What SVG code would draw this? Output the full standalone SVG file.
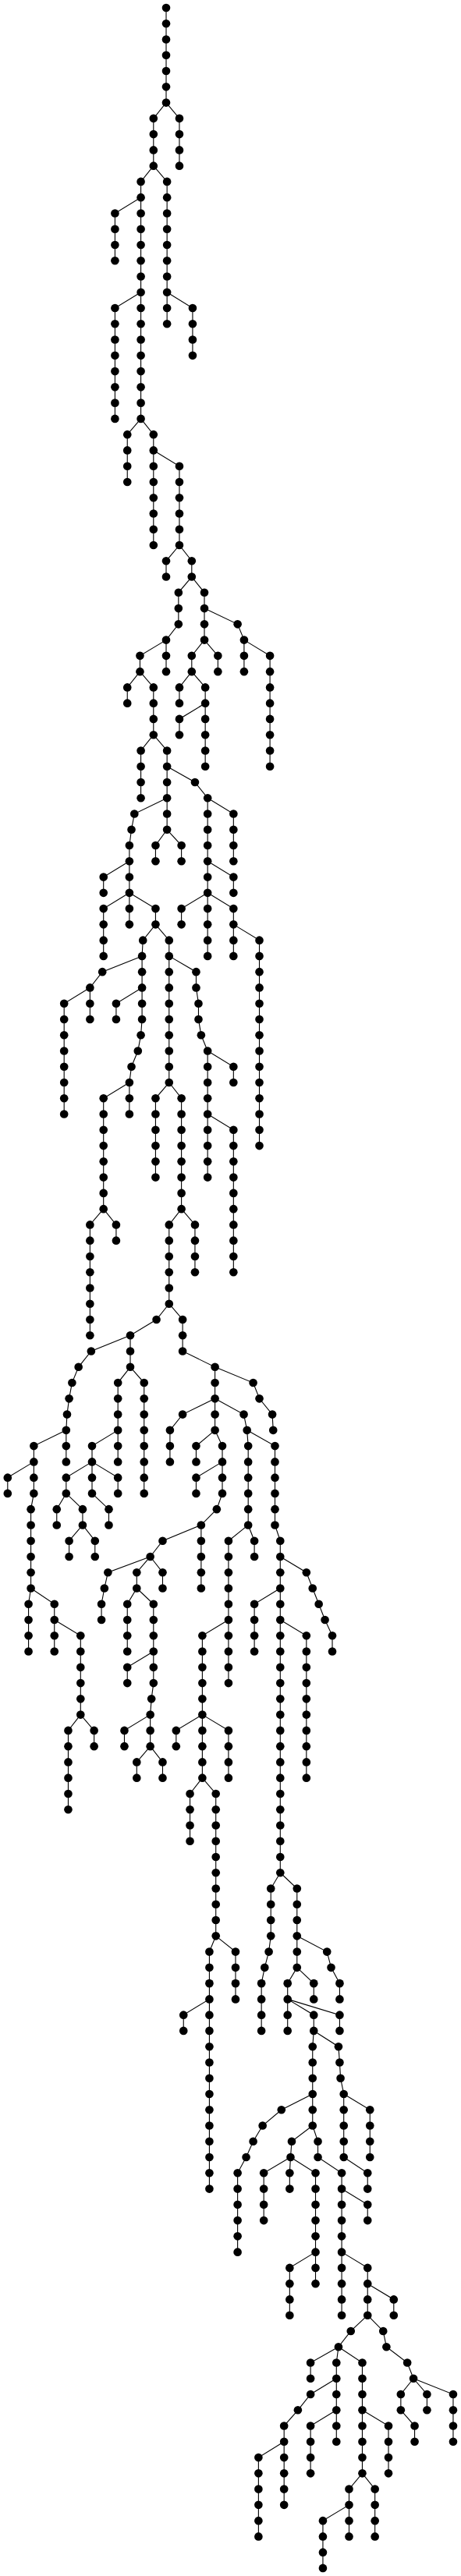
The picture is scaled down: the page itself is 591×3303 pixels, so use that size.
<svg xmlns="http://www.w3.org/2000/svg" width="591" height="3303" viewBox="0 0 591 3303">
<style>
.e path{fill:none;stroke:#000;stroke-width:1.1}
.n ellipse{fill:#000}
</style>
<rect width="591" height="3303" fill="#fff"/>
<g transform="matrix(0.377 0 0 20.265 0 10)">
<g id="connectors" class="e"><path vector-effect="non-scaling-stroke" d="M565 0V6 M565 6L522 7V10 M565 6L610 7V10 M522 10L479 11V26 M522 10L568 11V20 M479 12L391 13V16 M479 18L391 19V26 M568 18L655 19V22 M479 26L433 27V30 M479 26L522 27V34 M522 28L610 29V34 M610 34L565 35V36 M610 34L652 35V36 M652 36L607 37V39L565 40V42 M652 36L695 37V40 M695 38L808 39L830 40V42 M565 40L476 41V42 M695 40L652 41V42 M695 40L741 41V42 M830 40L918 41V48 M652 42L610 43V44 M652 42L698 43V48 M698 44L610 45V46 M476 42L433 43V44 M476 42L522 43V46 M522 46L479 47V50 M522 46L568 47V52 M568 48L663 49L706 50V60 M568 50L457 51L447 52L440 53V58 M568 52L529 53V54 M568 52L617 53V54 M706 50L794 51V54 M440 54L352 55V56 M440 56L352 57V60 M440 56L529 57V58 M529 58L486 59L483 60V64L479 65L469 66L447 67L440 68V70 M483 60L348 61L306 62V64 M306 62L218 63V70 M483 62L395 63V64 M529 58L575 59V68 M575 60L667 61V62L675 63V64L684 65L706 66V74 M706 66L794 67V68 M706 70L794 71V80 M706 54L794 55V56 M706 56L617 57V58 M706 56L794 57V60 M794 58L882 59V72 M440 68L352 69V76 M352 76L306 77V84 M352 76L395 77V78 M575 68L529 69V74 M575 68L617 69V76 M617 76L575 77V82 M617 76L663 77V80 M575 82L532 83L443 84V86 M575 82L621 83V85L731 86V90 M443 84L310 85L267 86L245 87L235 88L228 89L225 90V92 M225 90L115 91V94L105 95V100 M115 92L26 93V94 M443 86L401 87V92 M443 86L490 87V94 M401 90L313 91V94 M313 92L225 93V94 M313 92L401 93V94 M225 94L193 95V96 M225 94L281 95V96 M313 94L370 95V96 M731 86L861 87L882 88L926 89L929 90 M731 88L621 89L578 90V92 M731 88L829 89L840 90 M731 90L667 91V92 M731 90L756 91V94L737 95L684 96V100 M756 92L667 93V94 M840 90L844 91V96 M840 90L935 91V96L953 97V118 M105 100L97 101V104 M105 100L185 101V104 M185 102L274 103V108 M281 96L235 97V98 M281 96L323 97V98 M684 96L553 97L511 98 M511 98L367 99L355 100L345 101V102 M511 98L465 99V100 M511 98L553 99V100 M465 100L433 101V104 M465 100L522 101V106L515 107L511 108V110 M522 104L433 105V106 M844 96L777 97V106 M844 96L865 97V98 M777 102L688 103V112 M953 98L1042 99L1063 100L1084 101L1105 102L1130 103V104 M953 100L865 101V104 M953 102L1042 103V112 M274 108L232 109V114 M274 108L320 109V110 M511 108L423 109V110 M511 110L465 111V112 M511 110L553 111V112 M688 108L599 109V110 M688 108L777 109V112 M688 112L646 113V116 M688 112L734 113V122 M953 118L921 119V122L914 123L900 124L889 125V128 M953 118L1010 119V124 M734 122L712 123V138 M734 122L801 123V126 M712 126L624 127V128 M1010 122L1112 123L1126 124L1155 125V126 M1010 124L978 125V128 M1010 124L1067 125V126 M978 126L1067 127V128 M978 126L1155 127V128 M1067 128L1063 129V134 M1067 128L1151 129L1155 130L1158 131L1169 132V136 M1063 132L957 133L893 134L861 135L837 136L808 137V142 M1063 134L992 135L988 136L985 137V138 M1063 134L1081 135V136L1162 137V146 M1169 132L1258 133V136 M988 136L897 137V140 M988 136L1073 137V144 M1073 142L985 143V146 M1169 136L1250 137V138 M1162 138L1250 139V140 M1162 142L1250 143V146 M1250 144L1339 145V146 M1250 146L1193 147L1151 148L1144 149V154 M1151 148L1056 149V150 M1151 148L1232 149V156 M1250 146L1303 147L1314 148L1385 149L1406 150 M1144 150L1056 151L1013 152L966 153V158 M966 154L879 155V160 M1144 152L1056 153V156 M1232 152L1321 153V156 M1232 156L1187 157V160 M1232 156L1275 157V160 M1187 158L1098 159V162 M1406 150L1363 151V152L1410 153V154 M1406 150L1452 151V152 M1406 150L1541 151V154"/></g>
<g class="n">
<g id="n1"><ellipse cx="565" cy="0" rx="14.1" ry=".262"/></g>
<g id="n2"><ellipse cx="565" cy="1" rx="14.1" ry=".262"/></g>
<g id="n3"><ellipse cx="565" cy="2" rx="14.1" ry=".262"/></g>
<g id="n4"><ellipse cx="565" cy="3" rx="14.1" ry=".262"/></g>
<g id="n5"><ellipse cx="565" cy="4" rx="14.1" ry=".262"/></g>
<g id="n6"><ellipse cx="565" cy="5" rx="14.1" ry=".262"/></g>
<g id="n7"><ellipse cx="565" cy="6" rx="14.1" ry=".262"/></g>
<g id="n8"><ellipse cx="522" cy="7" rx="14.1" ry=".262"/></g>
<g id="n9"><ellipse cx="522" cy="8" rx="14.1" ry=".262"/></g>
<g id="n10"><ellipse cx="522" cy="9" rx="14.1" ry=".262"/></g>
<g id="n11"><ellipse cx="522" cy="10" rx="14.1" ry=".262"/></g>
<g id="n12"><ellipse cx="610" cy="7" rx="14.1" ry=".262"/></g>
<g id="n13"><ellipse cx="610" cy="8" rx="14.1" ry=".262"/></g>
<g id="n14"><ellipse cx="610" cy="9" rx="14.1" ry=".262"/></g>
<g id="n15"><ellipse cx="610" cy="10" rx="14.1" ry=".262"/></g>
<g id="n16"><ellipse cx="479" cy="11" rx="14.1" ry=".262"/></g>
<g id="n17"><ellipse cx="479" cy="12" rx="14.1" ry=".262"/></g>
<g id="n18"><ellipse cx="479" cy="13" rx="14.1" ry=".262"/></g>
<g id="n19"><ellipse cx="479" cy="14" rx="14.1" ry=".262"/></g>
<g id="n20"><ellipse cx="479" cy="15" rx="14.1" ry=".262"/></g>
<g id="n21"><ellipse cx="479" cy="16" rx="14.1" ry=".262"/></g>
<g id="n22"><ellipse cx="479" cy="17" rx="14.1" ry=".262"/></g>
<g id="n23"><ellipse cx="479" cy="18" rx="14.1" ry=".262"/></g>
<g id="n24"><ellipse cx="479" cy="19" rx="14.1" ry=".262"/></g>
<g id="n25"><ellipse cx="479" cy="20" rx="14.1" ry=".262"/></g>
<g id="n26"><ellipse cx="479" cy="21" rx="14.1" ry=".262"/></g>
<g id="n27"><ellipse cx="479" cy="22" rx="14.1" ry=".262"/></g>
<g id="n28"><ellipse cx="479" cy="23" rx="14.1" ry=".262"/></g>
<g id="n29"><ellipse cx="479" cy="24" rx="14.1" ry=".262"/></g>
<g id="n30"><ellipse cx="479" cy="25" rx="14.1" ry=".262"/></g>
<g id="n31"><ellipse cx="479" cy="26" rx="14.1" ry=".262"/></g>
<g id="n32"><ellipse cx="568" cy="11" rx="14.1" ry=".262"/></g>
<g id="n33"><ellipse cx="568" cy="12" rx="14.1" ry=".262"/></g>
<g id="n34"><ellipse cx="568" cy="13" rx="14.1" ry=".262"/></g>
<g id="n35"><ellipse cx="568" cy="14" rx="14.1" ry=".262"/></g>
<g id="n36"><ellipse cx="568" cy="15" rx="14.1" ry=".262"/></g>
<g id="n37"><ellipse cx="568" cy="16" rx="14.1" ry=".262"/></g>
<g id="n38"><ellipse cx="568" cy="17" rx="14.1" ry=".262"/></g>
<g id="n39"><ellipse cx="568" cy="18" rx="14.1" ry=".262"/></g>
<g id="n40"><ellipse cx="568" cy="19" rx="14.1" ry=".262"/></g>
<g id="n41"><ellipse cx="568" cy="20" rx="14.1" ry=".262"/></g>
<g id="n42"><ellipse cx="391" cy="13" rx="14.1" ry=".262"/></g>
<g id="n43"><ellipse cx="391" cy="14" rx="14.1" ry=".262"/></g>
<g id="n44"><ellipse cx="391" cy="15" rx="14.1" ry=".262"/></g>
<g id="n45"><ellipse cx="391" cy="16" rx="14.1" ry=".262"/></g>
<g id="n46"><ellipse cx="391" cy="19" rx="14.1" ry=".262"/></g>
<g id="n47"><ellipse cx="391" cy="20" rx="14.1" ry=".262"/></g>
<g id="n48"><ellipse cx="391" cy="21" rx="14.1" ry=".262"/></g>
<g id="n49"><ellipse cx="391" cy="22" rx="14.1" ry=".262"/></g>
<g id="n50"><ellipse cx="391" cy="23" rx="14.1" ry=".262"/></g>
<g id="n51"><ellipse cx="391" cy="24" rx="14.1" ry=".262"/></g>
<g id="n52"><ellipse cx="391" cy="25" rx="14.1" ry=".262"/></g>
<g id="n53"><ellipse cx="391" cy="26" rx="14.1" ry=".262"/></g>
<g id="n54"><ellipse cx="655" cy="19" rx="14.1" ry=".262"/></g>
<g id="n55"><ellipse cx="655" cy="20" rx="14.1" ry=".262"/></g>
<g id="n56"><ellipse cx="655" cy="21" rx="14.1" ry=".262"/></g>
<g id="n57"><ellipse cx="655" cy="22" rx="14.1" ry=".262"/></g>
<g id="n58"><ellipse cx="433" cy="27" rx="14.1" ry=".262"/></g>
<g id="n59"><ellipse cx="433" cy="28" rx="14.1" ry=".262"/></g>
<g id="n60"><ellipse cx="433" cy="29" rx="14.1" ry=".262"/></g>
<g id="n61"><ellipse cx="433" cy="30" rx="14.1" ry=".262"/></g>
<g id="n62"><ellipse cx="522" cy="27" rx="14.1" ry=".262"/></g>
<g id="n63"><ellipse cx="522" cy="28" rx="14.1" ry=".262"/></g>
<g id="n64"><ellipse cx="522" cy="29" rx="14.1" ry=".262"/></g>
<g id="n65"><ellipse cx="522" cy="30" rx="14.1" ry=".262"/></g>
<g id="n66"><ellipse cx="522" cy="31" rx="14.1" ry=".262"/></g>
<g id="n67"><ellipse cx="522" cy="32" rx="14.1" ry=".262"/></g>
<g id="n68"><ellipse cx="522" cy="33" rx="14.1" ry=".262"/></g>
<g id="n69"><ellipse cx="522" cy="34" rx="14.1" ry=".262"/></g>
<g id="n70"><ellipse cx="610" cy="29" rx="14.1" ry=".262"/></g>
<g id="n71"><ellipse cx="610" cy="30" rx="14.1" ry=".262"/></g>
<g id="n72"><ellipse cx="610" cy="31" rx="14.1" ry=".262"/></g>
<g id="n73"><ellipse cx="610" cy="32" rx="14.1" ry=".262"/></g>
<g id="n74"><ellipse cx="610" cy="33" rx="14.1" ry=".262"/></g>
<g id="n75"><ellipse cx="610" cy="34" rx="14.1" ry=".262"/></g>
<g id="n76"><ellipse cx="565" cy="35" rx="14.1" ry=".262"/></g>
<g id="n77"><ellipse cx="565" cy="36" rx="14.1" ry=".262"/></g>
<g id="n78"><ellipse cx="652" cy="35" rx="14.1" ry=".262"/></g>
<g id="n79"><ellipse cx="652" cy="36" rx="14.1" ry=".262"/></g>
<g id="n80"><ellipse cx="607" cy="37" rx="14.1" ry=".262"/></g>
<g id="n81"><ellipse cx="607" cy="38" rx="14.1" ry=".262"/></g>
<g id="n82"><ellipse cx="607" cy="39" rx="14.1" ry=".262"/></g>
<g id="n83"><ellipse cx="565" cy="40" rx="14.1" ry=".262"/></g>
<g id="n84"><ellipse cx="565" cy="41" rx="14.1" ry=".262"/></g>
<g id="n85"><ellipse cx="565" cy="42" rx="14.1" ry=".262"/></g>
<g id="n86"><ellipse cx="695" cy="37" rx="14.1" ry=".262"/></g>
<g id="n87"><ellipse cx="695" cy="38" rx="14.1" ry=".262"/></g>
<g id="n88"><ellipse cx="695" cy="39" rx="14.1" ry=".262"/></g>
<g id="n89"><ellipse cx="695" cy="40" rx="14.1" ry=".262"/></g>
<g id="n90"><ellipse cx="808" cy="39" rx="14.1" ry=".262"/></g>
<g id="n91"><ellipse cx="830" cy="40" rx="14.1" ry=".262"/></g>
<g id="n92"><ellipse cx="830" cy="41" rx="14.1" ry=".262"/></g>
<g id="n93"><ellipse cx="830" cy="42" rx="14.1" ry=".262"/></g>
<g id="n94"><ellipse cx="476" cy="41" rx="14.1" ry=".262"/></g>
<g id="n95"><ellipse cx="476" cy="42" rx="14.1" ry=".262"/></g>
<g id="n96"><ellipse cx="652" cy="41" rx="14.1" ry=".262"/></g>
<g id="n97"><ellipse cx="652" cy="42" rx="14.1" ry=".262"/></g>
<g id="n98"><ellipse cx="741" cy="41" rx="14.1" ry=".262"/></g>
<g id="n99"><ellipse cx="741" cy="42" rx="14.1" ry=".262"/></g>
<g id="n100"><ellipse cx="918" cy="41" rx="14.1" ry=".262"/></g>
<g id="n101"><ellipse cx="918" cy="42" rx="14.1" ry=".262"/></g>
<g id="n102"><ellipse cx="918" cy="43" rx="14.1" ry=".262"/></g>
<g id="n103"><ellipse cx="918" cy="44" rx="14.1" ry=".262"/></g>
<g id="n104"><ellipse cx="918" cy="45" rx="14.1" ry=".262"/></g>
<g id="n105"><ellipse cx="918" cy="46" rx="14.1" ry=".262"/></g>
<g id="n106"><ellipse cx="918" cy="47" rx="14.1" ry=".262"/></g>
<g id="n107"><ellipse cx="918" cy="48" rx="14.1" ry=".262"/></g>
<g id="n108"><ellipse cx="610" cy="43" rx="14.1" ry=".262"/></g>
<g id="n109"><ellipse cx="610" cy="44" rx="14.1" ry=".262"/></g>
<g id="n110"><ellipse cx="698" cy="43" rx="14.1" ry=".262"/></g>
<g id="n111"><ellipse cx="698" cy="44" rx="14.1" ry=".262"/></g>
<g id="n112"><ellipse cx="698" cy="45" rx="14.1" ry=".262"/></g>
<g id="n113"><ellipse cx="698" cy="46" rx="14.1" ry=".262"/></g>
<g id="n114"><ellipse cx="698" cy="47" rx="14.1" ry=".262"/></g>
<g id="n115"><ellipse cx="698" cy="48" rx="14.1" ry=".262"/></g>
<g id="n116"><ellipse cx="610" cy="45" rx="14.1" ry=".262"/></g>
<g id="n117"><ellipse cx="610" cy="46" rx="14.1" ry=".262"/></g>
<g id="n118"><ellipse cx="433" cy="43" rx="14.1" ry=".262"/></g>
<g id="n119"><ellipse cx="433" cy="44" rx="14.1" ry=".262"/></g>
<g id="n120"><ellipse cx="522" cy="43" rx="14.1" ry=".262"/></g>
<g id="n121"><ellipse cx="522" cy="44" rx="14.1" ry=".262"/></g>
<g id="n122"><ellipse cx="522" cy="45" rx="14.1" ry=".262"/></g>
<g id="n123"><ellipse cx="522" cy="46" rx="14.1" ry=".262"/></g>
<g id="n124"><ellipse cx="479" cy="47" rx="14.1" ry=".262"/></g>
<g id="n125"><ellipse cx="479" cy="48" rx="14.1" ry=".262"/></g>
<g id="n126"><ellipse cx="479" cy="49" rx="14.1" ry=".262"/></g>
<g id="n127"><ellipse cx="479" cy="50" rx="14.1" ry=".262"/></g>
<g id="n128"><ellipse cx="568" cy="47" rx="14.1" ry=".262"/></g>
<g id="n129"><ellipse cx="568" cy="48" rx="14.1" ry=".262"/></g>
<g id="n130"><ellipse cx="568" cy="49" rx="14.1" ry=".262"/></g>
<g id="n131"><ellipse cx="568" cy="50" rx="14.1" ry=".262"/></g>
<g id="n132"><ellipse cx="568" cy="51" rx="14.1" ry=".262"/></g>
<g id="n133"><ellipse cx="568" cy="52" rx="14.1" ry=".262"/></g>
<g id="n134"><ellipse cx="663" cy="49" rx="14.1" ry=".262"/></g>
<g id="n135"><ellipse cx="706" cy="50" rx="14.1" ry=".262"/></g>
<g id="n136"><ellipse cx="706" cy="51" rx="14.1" ry=".262"/></g>
<g id="n137"><ellipse cx="706" cy="52" rx="14.1" ry=".262"/></g>
<g id="n138"><ellipse cx="706" cy="53" rx="14.1" ry=".262"/></g>
<g id="n139"><ellipse cx="706" cy="54" rx="14.1" ry=".262"/></g>
<g id="n140"><ellipse cx="706" cy="55" rx="14.1" ry=".262"/></g>
<g id="n141"><ellipse cx="706" cy="56" rx="14.1" ry=".262"/></g>
<g id="n142"><ellipse cx="706" cy="57" rx="14.1" ry=".262"/></g>
<g id="n143"><ellipse cx="706" cy="58" rx="14.1" ry=".262"/></g>
<g id="n144"><ellipse cx="706" cy="59" rx="14.1" ry=".262"/></g>
<g id="n145"><ellipse cx="706" cy="60" rx="14.1" ry=".262"/></g>
<g id="n146"><ellipse cx="457" cy="51" rx="14.1" ry=".262"/></g>
<g id="n147"><ellipse cx="447" cy="52" rx="14.1" ry=".262"/></g>
<g id="n148"><ellipse cx="440" cy="53" rx="14.1" ry=".262"/></g>
<g id="n149"><ellipse cx="440" cy="54" rx="14.1" ry=".262"/></g>
<g id="n150"><ellipse cx="440" cy="55" rx="14.1" ry=".262"/></g>
<g id="n151"><ellipse cx="440" cy="56" rx="14.1" ry=".262"/></g>
<g id="n152"><ellipse cx="440" cy="57" rx="14.1" ry=".262"/></g>
<g id="n153"><ellipse cx="440" cy="58" rx="14.1" ry=".262"/></g>
<g id="n154"><ellipse cx="529" cy="53" rx="14.1" ry=".262"/></g>
<g id="n155"><ellipse cx="529" cy="54" rx="14.1" ry=".262"/></g>
<g id="n156"><ellipse cx="617" cy="53" rx="14.1" ry=".262"/></g>
<g id="n157"><ellipse cx="617" cy="54" rx="14.1" ry=".262"/></g>
<g id="n158"><ellipse cx="794" cy="51" rx="14.1" ry=".262"/></g>
<g id="n159"><ellipse cx="794" cy="52" rx="14.1" ry=".262"/></g>
<g id="n160"><ellipse cx="794" cy="53" rx="14.1" ry=".262"/></g>
<g id="n161"><ellipse cx="794" cy="54" rx="14.1" ry=".262"/></g>
<g id="n162"><ellipse cx="352" cy="55" rx="14.1" ry=".262"/></g>
<g id="n163"><ellipse cx="352" cy="56" rx="14.1" ry=".262"/></g>
<g id="n164"><ellipse cx="352" cy="57" rx="14.1" ry=".262"/></g>
<g id="n165"><ellipse cx="352" cy="58" rx="14.1" ry=".262"/></g>
<g id="n166"><ellipse cx="352" cy="59" rx="14.1" ry=".262"/></g>
<g id="n167"><ellipse cx="352" cy="60" rx="14.1" ry=".262"/></g>
<g id="n168"><ellipse cx="529" cy="57" rx="14.1" ry=".262"/></g>
<g id="n169"><ellipse cx="529" cy="58" rx="14.1" ry=".262"/></g>
<g id="n170"><ellipse cx="486" cy="59" rx="14.1" ry=".262"/></g>
<g id="n171"><ellipse cx="483" cy="60" rx="14.1" ry=".262"/></g>
<g id="n172"><ellipse cx="483" cy="61" rx="14.1" ry=".262"/></g>
<g id="n173"><ellipse cx="483" cy="62" rx="14.1" ry=".262"/></g>
<g id="n174"><ellipse cx="483" cy="63" rx="14.1" ry=".262"/></g>
<g id="n175"><ellipse cx="483" cy="64" rx="14.1" ry=".262"/></g>
<g id="n176"><ellipse cx="479" cy="65" rx="14.1" ry=".262"/></g>
<g id="n177"><ellipse cx="469" cy="66" rx="14.1" ry=".262"/></g>
<g id="n178"><ellipse cx="447" cy="67" rx="14.1" ry=".262"/></g>
<g id="n179"><ellipse cx="440" cy="68" rx="14.1" ry=".262"/></g>
<g id="n180"><ellipse cx="440" cy="69" rx="14.1" ry=".262"/></g>
<g id="n181"><ellipse cx="440" cy="70" rx="14.1" ry=".262"/></g>
<g id="n182"><ellipse cx="348" cy="61" rx="14.1" ry=".262"/></g>
<g id="n183"><ellipse cx="306" cy="62" rx="14.1" ry=".262"/></g>
<g id="n184"><ellipse cx="306" cy="63" rx="14.1" ry=".262"/></g>
<g id="n185"><ellipse cx="306" cy="64" rx="14.1" ry=".262"/></g>
<g id="n186"><ellipse cx="218" cy="63" rx="14.1" ry=".262"/></g>
<g id="n187"><ellipse cx="218" cy="64" rx="14.1" ry=".262"/></g>
<g id="n188"><ellipse cx="218" cy="65" rx="14.1" ry=".262"/></g>
<g id="n189"><ellipse cx="218" cy="66" rx="14.1" ry=".262"/></g>
<g id="n190"><ellipse cx="218" cy="67" rx="14.1" ry=".262"/></g>
<g id="n191"><ellipse cx="218" cy="68" rx="14.1" ry=".262"/></g>
<g id="n192"><ellipse cx="218" cy="69" rx="14.1" ry=".262"/></g>
<g id="n193"><ellipse cx="218" cy="70" rx="14.1" ry=".262"/></g>
<g id="n194"><ellipse cx="395" cy="63" rx="14.1" ry=".262"/></g>
<g id="n195"><ellipse cx="395" cy="64" rx="14.1" ry=".262"/></g>
<g id="n196"><ellipse cx="575" cy="59" rx="14.1" ry=".262"/></g>
<g id="n197"><ellipse cx="575" cy="60" rx="14.1" ry=".262"/></g>
<g id="n198"><ellipse cx="575" cy="61" rx="14.1" ry=".262"/></g>
<g id="n199"><ellipse cx="575" cy="62" rx="14.1" ry=".262"/></g>
<g id="n200"><ellipse cx="575" cy="63" rx="14.1" ry=".262"/></g>
<g id="n201"><ellipse cx="575" cy="64" rx="14.1" ry=".262"/></g>
<g id="n202"><ellipse cx="575" cy="65" rx="14.1" ry=".262"/></g>
<g id="n203"><ellipse cx="575" cy="66" rx="14.1" ry=".262"/></g>
<g id="n204"><ellipse cx="575" cy="67" rx="14.1" ry=".262"/></g>
<g id="n205"><ellipse cx="575" cy="68" rx="14.1" ry=".262"/></g>
<g id="n206"><ellipse cx="667" cy="61" rx="14.1" ry=".262"/></g>
<g id="n207"><ellipse cx="667" cy="62" rx="14.1" ry=".262"/></g>
<g id="n208"><ellipse cx="675" cy="63" rx="14.1" ry=".262"/></g>
<g id="n209"><ellipse cx="675" cy="64" rx="14.1" ry=".262"/></g>
<g id="n210"><ellipse cx="684" cy="65" rx="14.1" ry=".262"/></g>
<g id="n211"><ellipse cx="706" cy="66" rx="14.1" ry=".262"/></g>
<g id="n212"><ellipse cx="706" cy="67" rx="14.1" ry=".262"/></g>
<g id="n213"><ellipse cx="706" cy="68" rx="14.1" ry=".262"/></g>
<g id="n214"><ellipse cx="706" cy="69" rx="14.1" ry=".262"/></g>
<g id="n215"><ellipse cx="706" cy="70" rx="14.1" ry=".262"/></g>
<g id="n216"><ellipse cx="706" cy="71" rx="14.1" ry=".262"/></g>
<g id="n217"><ellipse cx="706" cy="72" rx="14.1" ry=".262"/></g>
<g id="n218"><ellipse cx="706" cy="73" rx="14.1" ry=".262"/></g>
<g id="n219"><ellipse cx="706" cy="74" rx="14.1" ry=".262"/></g>
<g id="n220"><ellipse cx="794" cy="67" rx="14.1" ry=".262"/></g>
<g id="n221"><ellipse cx="794" cy="68" rx="14.1" ry=".262"/></g>
<g id="n222"><ellipse cx="794" cy="71" rx="14.1" ry=".262"/></g>
<g id="n223"><ellipse cx="794" cy="72" rx="14.1" ry=".262"/></g>
<g id="n224"><ellipse cx="794" cy="73" rx="14.1" ry=".262"/></g>
<g id="n225"><ellipse cx="794" cy="74" rx="14.1" ry=".262"/></g>
<g id="n226"><ellipse cx="794" cy="75" rx="14.1" ry=".262"/></g>
<g id="n227"><ellipse cx="794" cy="76" rx="14.1" ry=".262"/></g>
<g id="n228"><ellipse cx="794" cy="77" rx="14.1" ry=".262"/></g>
<g id="n229"><ellipse cx="794" cy="78" rx="14.1" ry=".262"/></g>
<g id="n230"><ellipse cx="794" cy="79" rx="14.1" ry=".262"/></g>
<g id="n231"><ellipse cx="794" cy="80" rx="14.1" ry=".262"/></g>
<g id="n232"><ellipse cx="794" cy="55" rx="14.1" ry=".262"/></g>
<g id="n233"><ellipse cx="794" cy="56" rx="14.1" ry=".262"/></g>
<g id="n234"><ellipse cx="617" cy="57" rx="14.1" ry=".262"/></g>
<g id="n235"><ellipse cx="617" cy="58" rx="14.1" ry=".262"/></g>
<g id="n236"><ellipse cx="794" cy="57" rx="14.1" ry=".262"/></g>
<g id="n237"><ellipse cx="794" cy="58" rx="14.1" ry=".262"/></g>
<g id="n238"><ellipse cx="794" cy="59" rx="14.1" ry=".262"/></g>
<g id="n239"><ellipse cx="794" cy="60" rx="14.1" ry=".262"/></g>
<g id="n240"><ellipse cx="882" cy="59" rx="14.1" ry=".262"/></g>
<g id="n241"><ellipse cx="882" cy="60" rx="14.1" ry=".262"/></g>
<g id="n242"><ellipse cx="882" cy="61" rx="14.1" ry=".262"/></g>
<g id="n243"><ellipse cx="882" cy="62" rx="14.1" ry=".262"/></g>
<g id="n244"><ellipse cx="882" cy="63" rx="14.1" ry=".262"/></g>
<g id="n245"><ellipse cx="882" cy="64" rx="14.1" ry=".262"/></g>
<g id="n246"><ellipse cx="882" cy="65" rx="14.1" ry=".262"/></g>
<g id="n247"><ellipse cx="882" cy="66" rx="14.1" ry=".262"/></g>
<g id="n248"><ellipse cx="882" cy="67" rx="14.1" ry=".262"/></g>
<g id="n249"><ellipse cx="882" cy="68" rx="14.1" ry=".262"/></g>
<g id="n250"><ellipse cx="882" cy="69" rx="14.1" ry=".262"/></g>
<g id="n251"><ellipse cx="882" cy="70" rx="14.1" ry=".262"/></g>
<g id="n252"><ellipse cx="882" cy="71" rx="14.1" ry=".262"/></g>
<g id="n253"><ellipse cx="882" cy="72" rx="14.1" ry=".262"/></g>
<g id="n254"><ellipse cx="352" cy="69" rx="14.1" ry=".262"/></g>
<g id="n255"><ellipse cx="352" cy="70" rx="14.1" ry=".262"/></g>
<g id="n256"><ellipse cx="352" cy="71" rx="14.1" ry=".262"/></g>
<g id="n257"><ellipse cx="352" cy="72" rx="14.1" ry=".262"/></g>
<g id="n258"><ellipse cx="352" cy="73" rx="14.1" ry=".262"/></g>
<g id="n259"><ellipse cx="352" cy="74" rx="14.1" ry=".262"/></g>
<g id="n260"><ellipse cx="352" cy="75" rx="14.1" ry=".262"/></g>
<g id="n261"><ellipse cx="352" cy="76" rx="14.1" ry=".262"/></g>
<g id="n262"><ellipse cx="306" cy="77" rx="14.1" ry=".262"/></g>
<g id="n263"><ellipse cx="306" cy="78" rx="14.1" ry=".262"/></g>
<g id="n264"><ellipse cx="306" cy="79" rx="14.1" ry=".262"/></g>
<g id="n265"><ellipse cx="306" cy="80" rx="14.1" ry=".262"/></g>
<g id="n266"><ellipse cx="306" cy="81" rx="14.1" ry=".262"/></g>
<g id="n267"><ellipse cx="306" cy="82" rx="14.1" ry=".262"/></g>
<g id="n268"><ellipse cx="306" cy="83" rx="14.1" ry=".262"/></g>
<g id="n269"><ellipse cx="306" cy="84" rx="14.1" ry=".262"/></g>
<g id="n270"><ellipse cx="395" cy="77" rx="14.1" ry=".262"/></g>
<g id="n271"><ellipse cx="395" cy="78" rx="14.1" ry=".262"/></g>
<g id="n272"><ellipse cx="529" cy="69" rx="14.1" ry=".262"/></g>
<g id="n273"><ellipse cx="529" cy="70" rx="14.1" ry=".262"/></g>
<g id="n274"><ellipse cx="529" cy="71" rx="14.1" ry=".262"/></g>
<g id="n275"><ellipse cx="529" cy="72" rx="14.1" ry=".262"/></g>
<g id="n276"><ellipse cx="529" cy="73" rx="14.1" ry=".262"/></g>
<g id="n277"><ellipse cx="529" cy="74" rx="14.1" ry=".262"/></g>
<g id="n278"><ellipse cx="617" cy="69" rx="14.1" ry=".262"/></g>
<g id="n279"><ellipse cx="617" cy="70" rx="14.1" ry=".262"/></g>
<g id="n280"><ellipse cx="617" cy="71" rx="14.1" ry=".262"/></g>
<g id="n281"><ellipse cx="617" cy="72" rx="14.1" ry=".262"/></g>
<g id="n282"><ellipse cx="617" cy="73" rx="14.1" ry=".262"/></g>
<g id="n283"><ellipse cx="617" cy="74" rx="14.1" ry=".262"/></g>
<g id="n284"><ellipse cx="617" cy="75" rx="14.1" ry=".262"/></g>
<g id="n285"><ellipse cx="617" cy="76" rx="14.1" ry=".262"/></g>
<g id="n286"><ellipse cx="575" cy="77" rx="14.1" ry=".262"/></g>
<g id="n287"><ellipse cx="575" cy="78" rx="14.1" ry=".262"/></g>
<g id="n288"><ellipse cx="575" cy="79" rx="14.1" ry=".262"/></g>
<g id="n289"><ellipse cx="575" cy="80" rx="14.1" ry=".262"/></g>
<g id="n290"><ellipse cx="575" cy="81" rx="14.1" ry=".262"/></g>
<g id="n291"><ellipse cx="575" cy="82" rx="14.1" ry=".262"/></g>
<g id="n292"><ellipse cx="663" cy="77" rx="14.1" ry=".262"/></g>
<g id="n293"><ellipse cx="663" cy="78" rx="14.1" ry=".262"/></g>
<g id="n294"><ellipse cx="663" cy="79" rx="14.1" ry=".262"/></g>
<g id="n295"><ellipse cx="663" cy="80" rx="14.1" ry=".262"/></g>
<g id="n296"><ellipse cx="532" cy="83" rx="14.1" ry=".262"/></g>
<g id="n297"><ellipse cx="443" cy="84" rx="14.1" ry=".262"/></g>
<g id="n298"><ellipse cx="443" cy="85" rx="14.1" ry=".262"/></g>
<g id="n299"><ellipse cx="443" cy="86" rx="14.1" ry=".262"/></g>
<g id="n300"><ellipse cx="621" cy="83" rx="14.1" ry=".262"/></g>
<g id="n301"><ellipse cx="621" cy="84" rx="14.1" ry=".262"/></g>
<g id="n302"><ellipse cx="621" cy="85" rx="14.1" ry=".262"/></g>
<g id="n303"><ellipse cx="731" cy="86" rx="14.1" ry=".262"/></g>
<g id="n304"><ellipse cx="731" cy="87" rx="14.1" ry=".262"/></g>
<g id="n305"><ellipse cx="731" cy="88" rx="14.1" ry=".262"/></g>
<g id="n306"><ellipse cx="731" cy="89" rx="14.1" ry=".262"/></g>
<g id="n307"><ellipse cx="731" cy="90" rx="14.1" ry=".262"/></g>
<g id="n308"><ellipse cx="310" cy="85" rx="14.1" ry=".262"/></g>
<g id="n309"><ellipse cx="267" cy="86" rx="14.1" ry=".262"/></g>
<g id="n310"><ellipse cx="245" cy="87" rx="14.1" ry=".262"/></g>
<g id="n311"><ellipse cx="235" cy="88" rx="14.1" ry=".262"/></g>
<g id="n312"><ellipse cx="228" cy="89" rx="14.1" ry=".262"/></g>
<g id="n313"><ellipse cx="225" cy="90" rx="14.1" ry=".262"/></g>
<g id="n314"><ellipse cx="225" cy="91" rx="14.1" ry=".262"/></g>
<g id="n315"><ellipse cx="225" cy="92" rx="14.1" ry=".262"/></g>
<g id="n316"><ellipse cx="115" cy="91" rx="14.1" ry=".262"/></g>
<g id="n317"><ellipse cx="115" cy="92" rx="14.1" ry=".262"/></g>
<g id="n318"><ellipse cx="115" cy="93" rx="14.1" ry=".262"/></g>
<g id="n319"><ellipse cx="115" cy="94" rx="14.1" ry=".262"/></g>
<g id="n320"><ellipse cx="105" cy="95" rx="14.1" ry=".262"/></g>
<g id="n321"><ellipse cx="105" cy="96" rx="14.1" ry=".262"/></g>
<g id="n322"><ellipse cx="105" cy="97" rx="14.1" ry=".262"/></g>
<g id="n323"><ellipse cx="105" cy="98" rx="14.1" ry=".262"/></g>
<g id="n324"><ellipse cx="105" cy="99" rx="14.1" ry=".262"/></g>
<g id="n325"><ellipse cx="105" cy="100" rx="14.1" ry=".262"/></g>
<g id="n326"><ellipse cx="26" cy="93" rx="14.1" ry=".262"/></g>
<g id="n327"><ellipse cx="26" cy="94" rx="14.1" ry=".262"/></g>
<g id="n328"><ellipse cx="401" cy="87" rx="14.1" ry=".262"/></g>
<g id="n329"><ellipse cx="401" cy="88" rx="14.1" ry=".262"/></g>
<g id="n330"><ellipse cx="401" cy="89" rx="14.1" ry=".262"/></g>
<g id="n331"><ellipse cx="401" cy="90" rx="14.1" ry=".262"/></g>
<g id="n332"><ellipse cx="401" cy="91" rx="14.1" ry=".262"/></g>
<g id="n333"><ellipse cx="401" cy="92" rx="14.1" ry=".262"/></g>
<g id="n334"><ellipse cx="490" cy="87" rx="14.1" ry=".262"/></g>
<g id="n335"><ellipse cx="490" cy="88" rx="14.1" ry=".262"/></g>
<g id="n336"><ellipse cx="490" cy="89" rx="14.1" ry=".262"/></g>
<g id="n337"><ellipse cx="490" cy="90" rx="14.1" ry=".262"/></g>
<g id="n338"><ellipse cx="490" cy="91" rx="14.1" ry=".262"/></g>
<g id="n339"><ellipse cx="490" cy="92" rx="14.1" ry=".262"/></g>
<g id="n340"><ellipse cx="490" cy="93" rx="14.1" ry=".262"/></g>
<g id="n341"><ellipse cx="490" cy="94" rx="14.1" ry=".262"/></g>
<g id="n342"><ellipse cx="313" cy="91" rx="14.1" ry=".262"/></g>
<g id="n343"><ellipse cx="313" cy="92" rx="14.1" ry=".262"/></g>
<g id="n344"><ellipse cx="313" cy="93" rx="14.1" ry=".262"/></g>
<g id="n345"><ellipse cx="313" cy="94" rx="14.1" ry=".262"/></g>
<g id="n346"><ellipse cx="225" cy="93" rx="14.1" ry=".262"/></g>
<g id="n347"><ellipse cx="225" cy="94" rx="14.1" ry=".262"/></g>
<g id="n348"><ellipse cx="401" cy="93" rx="14.1" ry=".262"/></g>
<g id="n349"><ellipse cx="401" cy="94" rx="14.1" ry=".262"/></g>
<g id="n350"><ellipse cx="193" cy="95" rx="14.1" ry=".262"/></g>
<g id="n351"><ellipse cx="193" cy="96" rx="14.1" ry=".262"/></g>
<g id="n352"><ellipse cx="281" cy="95" rx="14.1" ry=".262"/></g>
<g id="n353"><ellipse cx="281" cy="96" rx="14.1" ry=".262"/></g>
<g id="n354"><ellipse cx="370" cy="95" rx="14.1" ry=".262"/></g>
<g id="n355"><ellipse cx="370" cy="96" rx="14.1" ry=".262"/></g>
<g id="n356"><ellipse cx="861" cy="87" rx="14.1" ry=".262"/></g>
<g id="n357"><ellipse cx="882" cy="88" rx="14.1" ry=".262"/></g>
<g id="n358"><ellipse cx="926" cy="89" rx="14.1" ry=".262"/></g>
<g id="n359"><ellipse cx="929" cy="90" rx="14.1" ry=".262"/></g>
<g id="n360"><ellipse cx="621" cy="89" rx="14.1" ry=".262"/></g>
<g id="n361"><ellipse cx="578" cy="90" rx="14.1" ry=".262"/></g>
<g id="n362"><ellipse cx="578" cy="91" rx="14.1" ry=".262"/></g>
<g id="n363"><ellipse cx="578" cy="92" rx="14.1" ry=".262"/></g>
<g id="n364"><ellipse cx="829" cy="89" rx="14.1" ry=".262"/></g>
<g id="n365"><ellipse cx="840" cy="90" rx="14.1" ry=".262"/></g>
<g id="n366"><ellipse cx="667" cy="91" rx="14.1" ry=".262"/></g>
<g id="n367"><ellipse cx="667" cy="92" rx="14.1" ry=".262"/></g>
<g id="n368"><ellipse cx="756" cy="91" rx="14.1" ry=".262"/></g>
<g id="n369"><ellipse cx="756" cy="92" rx="14.1" ry=".262"/></g>
<g id="n370"><ellipse cx="756" cy="93" rx="14.1" ry=".262"/></g>
<g id="n371"><ellipse cx="756" cy="94" rx="14.1" ry=".262"/></g>
<g id="n372"><ellipse cx="737" cy="95" rx="14.1" ry=".262"/></g>
<g id="n373"><ellipse cx="684" cy="96" rx="14.1" ry=".262"/></g>
<g id="n374"><ellipse cx="684" cy="97" rx="14.1" ry=".262"/></g>
<g id="n375"><ellipse cx="684" cy="98" rx="14.1" ry=".262"/></g>
<g id="n376"><ellipse cx="684" cy="99" rx="14.1" ry=".262"/></g>
<g id="n377"><ellipse cx="684" cy="100" rx="14.1" ry=".262"/></g>
<g id="n378"><ellipse cx="667" cy="93" rx="14.1" ry=".262"/></g>
<g id="n379"><ellipse cx="667" cy="94" rx="14.1" ry=".262"/></g>
<g id="n380"><ellipse cx="844" cy="91" rx="14.1" ry=".262"/></g>
<g id="n381"><ellipse cx="844" cy="92" rx="14.1" ry=".262"/></g>
<g id="n382"><ellipse cx="844" cy="93" rx="14.1" ry=".262"/></g>
<g id="n383"><ellipse cx="844" cy="94" rx="14.1" ry=".262"/></g>
<g id="n384"><ellipse cx="844" cy="95" rx="14.1" ry=".262"/></g>
<g id="n385"><ellipse cx="844" cy="96" rx="14.1" ry=".262"/></g>
<g id="n386"><ellipse cx="935" cy="91" rx="14.1" ry=".262"/></g>
<g id="n387"><ellipse cx="935" cy="92" rx="14.1" ry=".262"/></g>
<g id="n388"><ellipse cx="935" cy="93" rx="14.1" ry=".262"/></g>
<g id="n389"><ellipse cx="935" cy="94" rx="14.1" ry=".262"/></g>
<g id="n390"><ellipse cx="935" cy="95" rx="14.1" ry=".262"/></g>
<g id="n391"><ellipse cx="935" cy="96" rx="14.1" ry=".262"/></g>
<g id="n392"><ellipse cx="953" cy="97" rx="14.1" ry=".262"/></g>
<g id="n393"><ellipse cx="953" cy="98" rx="14.1" ry=".262"/></g>
<g id="n394"><ellipse cx="953" cy="99" rx="14.1" ry=".262"/></g>
<g id="n395"><ellipse cx="953" cy="100" rx="14.1" ry=".262"/></g>
<g id="n396"><ellipse cx="953" cy="101" rx="14.1" ry=".262"/></g>
<g id="n397"><ellipse cx="953" cy="102" rx="14.1" ry=".262"/></g>
<g id="n398"><ellipse cx="953" cy="103" rx="14.1" ry=".262"/></g>
<g id="n399"><ellipse cx="953" cy="104" rx="14.1" ry=".262"/></g>
<g id="n400"><ellipse cx="953" cy="105" rx="14.1" ry=".262"/></g>
<g id="n401"><ellipse cx="953" cy="106" rx="14.1" ry=".262"/></g>
<g id="n402"><ellipse cx="953" cy="107" rx="14.1" ry=".262"/></g>
<g id="n403"><ellipse cx="953" cy="108" rx="14.1" ry=".262"/></g>
<g id="n404"><ellipse cx="953" cy="109" rx="14.1" ry=".262"/></g>
<g id="n405"><ellipse cx="953" cy="110" rx="14.1" ry=".262"/></g>
<g id="n406"><ellipse cx="953" cy="111" rx="14.1" ry=".262"/></g>
<g id="n407"><ellipse cx="953" cy="112" rx="14.1" ry=".262"/></g>
<g id="n408"><ellipse cx="953" cy="113" rx="14.1" ry=".262"/></g>
<g id="n409"><ellipse cx="953" cy="114" rx="14.1" ry=".262"/></g>
<g id="n410"><ellipse cx="953" cy="115" rx="14.1" ry=".262"/></g>
<g id="n411"><ellipse cx="953" cy="116" rx="14.1" ry=".262"/></g>
<g id="n412"><ellipse cx="953" cy="117" rx="14.1" ry=".262"/></g>
<g id="n413"><ellipse cx="953" cy="118" rx="14.1" ry=".262"/></g>
<g id="n414"><ellipse cx="97" cy="101" rx="14.1" ry=".262"/></g>
<g id="n415"><ellipse cx="97" cy="102" rx="14.1" ry=".262"/></g>
<g id="n416"><ellipse cx="97" cy="103" rx="14.1" ry=".262"/></g>
<g id="n417"><ellipse cx="97" cy="104" rx="14.1" ry=".262"/></g>
<g id="n418"><ellipse cx="185" cy="101" rx="14.1" ry=".262"/></g>
<g id="n419"><ellipse cx="185" cy="102" rx="14.1" ry=".262"/></g>
<g id="n420"><ellipse cx="185" cy="103" rx="14.1" ry=".262"/></g>
<g id="n421"><ellipse cx="185" cy="104" rx="14.1" ry=".262"/></g>
<g id="n422"><ellipse cx="274" cy="103" rx="14.1" ry=".262"/></g>
<g id="n423"><ellipse cx="274" cy="104" rx="14.1" ry=".262"/></g>
<g id="n424"><ellipse cx="274" cy="105" rx="14.1" ry=".262"/></g>
<g id="n425"><ellipse cx="274" cy="106" rx="14.1" ry=".262"/></g>
<g id="n426"><ellipse cx="274" cy="107" rx="14.1" ry=".262"/></g>
<g id="n427"><ellipse cx="274" cy="108" rx="14.1" ry=".262"/></g>
<g id="n428"><ellipse cx="235" cy="97" rx="14.1" ry=".262"/></g>
<g id="n429"><ellipse cx="235" cy="98" rx="14.1" ry=".262"/></g>
<g id="n430"><ellipse cx="323" cy="97" rx="14.1" ry=".262"/></g>
<g id="n431"><ellipse cx="323" cy="98" rx="14.1" ry=".262"/></g>
<g id="n432"><ellipse cx="553" cy="97" rx="14.1" ry=".262"/></g>
<g id="n433"><ellipse cx="511" cy="98" rx="14.1" ry=".262"/></g>
<g id="n434"><ellipse cx="367" cy="99" rx="14.1" ry=".262"/></g>
<g id="n435"><ellipse cx="355" cy="100" rx="14.1" ry=".262"/></g>
<g id="n436"><ellipse cx="345" cy="101" rx="14.1" ry=".262"/></g>
<g id="n437"><ellipse cx="345" cy="102" rx="14.1" ry=".262"/></g>
<g id="n438"><ellipse cx="465" cy="99" rx="14.1" ry=".262"/></g>
<g id="n439"><ellipse cx="465" cy="100" rx="14.1" ry=".262"/></g>
<g id="n440"><ellipse cx="553" cy="99" rx="14.1" ry=".262"/></g>
<g id="n441"><ellipse cx="553" cy="100" rx="14.1" ry=".262"/></g>
<g id="n442"><ellipse cx="433" cy="101" rx="14.1" ry=".262"/></g>
<g id="n443"><ellipse cx="433" cy="102" rx="14.1" ry=".262"/></g>
<g id="n444"><ellipse cx="433" cy="103" rx="14.1" ry=".262"/></g>
<g id="n445"><ellipse cx="433" cy="104" rx="14.1" ry=".262"/></g>
<g id="n446"><ellipse cx="522" cy="101" rx="14.1" ry=".262"/></g>
<g id="n447"><ellipse cx="522" cy="102" rx="14.1" ry=".262"/></g>
<g id="n448"><ellipse cx="522" cy="103" rx="14.1" ry=".262"/></g>
<g id="n449"><ellipse cx="522" cy="104" rx="14.1" ry=".262"/></g>
<g id="n450"><ellipse cx="522" cy="105" rx="14.1" ry=".262"/></g>
<g id="n451"><ellipse cx="522" cy="106" rx="14.1" ry=".262"/></g>
<g id="n452"><ellipse cx="515" cy="107" rx="14.1" ry=".262"/></g>
<g id="n453"><ellipse cx="511" cy="108" rx="14.1" ry=".262"/></g>
<g id="n454"><ellipse cx="511" cy="109" rx="14.1" ry=".262"/></g>
<g id="n455"><ellipse cx="511" cy="110" rx="14.1" ry=".262"/></g>
<g id="n456"><ellipse cx="433" cy="105" rx="14.1" ry=".262"/></g>
<g id="n457"><ellipse cx="433" cy="106" rx="14.1" ry=".262"/></g>
<g id="n458"><ellipse cx="777" cy="97" rx="14.1" ry=".262"/></g>
<g id="n459"><ellipse cx="777" cy="98" rx="14.1" ry=".262"/></g>
<g id="n460"><ellipse cx="777" cy="99" rx="14.1" ry=".262"/></g>
<g id="n461"><ellipse cx="777" cy="100" rx="14.1" ry=".262"/></g>
<g id="n462"><ellipse cx="777" cy="101" rx="14.1" ry=".262"/></g>
<g id="n463"><ellipse cx="777" cy="102" rx="14.1" ry=".262"/></g>
<g id="n464"><ellipse cx="777" cy="103" rx="14.1" ry=".262"/></g>
<g id="n465"><ellipse cx="777" cy="104" rx="14.1" ry=".262"/></g>
<g id="n466"><ellipse cx="777" cy="105" rx="14.1" ry=".262"/></g>
<g id="n467"><ellipse cx="777" cy="106" rx="14.1" ry=".262"/></g>
<g id="n468"><ellipse cx="865" cy="97" rx="14.1" ry=".262"/></g>
<g id="n469"><ellipse cx="865" cy="98" rx="14.1" ry=".262"/></g>
<g id="n470"><ellipse cx="688" cy="103" rx="14.1" ry=".262"/></g>
<g id="n471"><ellipse cx="688" cy="104" rx="14.1" ry=".262"/></g>
<g id="n472"><ellipse cx="688" cy="105" rx="14.1" ry=".262"/></g>
<g id="n473"><ellipse cx="688" cy="106" rx="14.1" ry=".262"/></g>
<g id="n474"><ellipse cx="688" cy="107" rx="14.1" ry=".262"/></g>
<g id="n475"><ellipse cx="688" cy="108" rx="14.1" ry=".262"/></g>
<g id="n476"><ellipse cx="688" cy="109" rx="14.1" ry=".262"/></g>
<g id="n477"><ellipse cx="688" cy="110" rx="14.1" ry=".262"/></g>
<g id="n478"><ellipse cx="688" cy="111" rx="14.1" ry=".262"/></g>
<g id="n479"><ellipse cx="688" cy="112" rx="14.1" ry=".262"/></g>
<g id="n480"><ellipse cx="1042" cy="99" rx="14.1" ry=".262"/></g>
<g id="n481"><ellipse cx="1063" cy="100" rx="14.1" ry=".262"/></g>
<g id="n482"><ellipse cx="1084" cy="101" rx="14.1" ry=".262"/></g>
<g id="n483"><ellipse cx="1105" cy="102" rx="14.1" ry=".262"/></g>
<g id="n484"><ellipse cx="1130" cy="103" rx="14.1" ry=".262"/></g>
<g id="n485"><ellipse cx="1130" cy="104" rx="14.1" ry=".262"/></g>
<g id="n486"><ellipse cx="865" cy="101" rx="14.1" ry=".262"/></g>
<g id="n487"><ellipse cx="865" cy="102" rx="14.1" ry=".262"/></g>
<g id="n488"><ellipse cx="865" cy="103" rx="14.1" ry=".262"/></g>
<g id="n489"><ellipse cx="865" cy="104" rx="14.1" ry=".262"/></g>
<g id="n490"><ellipse cx="1042" cy="103" rx="14.1" ry=".262"/></g>
<g id="n491"><ellipse cx="1042" cy="104" rx="14.1" ry=".262"/></g>
<g id="n492"><ellipse cx="1042" cy="105" rx="14.1" ry=".262"/></g>
<g id="n493"><ellipse cx="1042" cy="106" rx="14.1" ry=".262"/></g>
<g id="n494"><ellipse cx="1042" cy="107" rx="14.1" ry=".262"/></g>
<g id="n495"><ellipse cx="1042" cy="108" rx="14.1" ry=".262"/></g>
<g id="n496"><ellipse cx="1042" cy="109" rx="14.1" ry=".262"/></g>
<g id="n497"><ellipse cx="1042" cy="110" rx="14.1" ry=".262"/></g>
<g id="n498"><ellipse cx="1042" cy="111" rx="14.1" ry=".262"/></g>
<g id="n499"><ellipse cx="1042" cy="112" rx="14.1" ry=".262"/></g>
<g id="n500"><ellipse cx="232" cy="109" rx="14.1" ry=".262"/></g>
<g id="n501"><ellipse cx="232" cy="110" rx="14.1" ry=".262"/></g>
<g id="n502"><ellipse cx="232" cy="111" rx="14.1" ry=".262"/></g>
<g id="n503"><ellipse cx="232" cy="112" rx="14.1" ry=".262"/></g>
<g id="n504"><ellipse cx="232" cy="113" rx="14.1" ry=".262"/></g>
<g id="n505"><ellipse cx="232" cy="114" rx="14.1" ry=".262"/></g>
<g id="n506"><ellipse cx="320" cy="109" rx="14.1" ry=".262"/></g>
<g id="n507"><ellipse cx="320" cy="110" rx="14.1" ry=".262"/></g>
<g id="n508"><ellipse cx="423" cy="109" rx="14.1" ry=".262"/></g>
<g id="n509"><ellipse cx="423" cy="110" rx="14.1" ry=".262"/></g>
<g id="n510"><ellipse cx="465" cy="111" rx="14.1" ry=".262"/></g>
<g id="n511"><ellipse cx="465" cy="112" rx="14.1" ry=".262"/></g>
<g id="n512"><ellipse cx="553" cy="111" rx="14.1" ry=".262"/></g>
<g id="n513"><ellipse cx="553" cy="112" rx="14.1" ry=".262"/></g>
<g id="n514"><ellipse cx="599" cy="109" rx="14.1" ry=".262"/></g>
<g id="n515"><ellipse cx="599" cy="110" rx="14.1" ry=".262"/></g>
<g id="n516"><ellipse cx="777" cy="109" rx="14.1" ry=".262"/></g>
<g id="n517"><ellipse cx="777" cy="110" rx="14.1" ry=".262"/></g>
<g id="n518"><ellipse cx="777" cy="111" rx="14.1" ry=".262"/></g>
<g id="n519"><ellipse cx="777" cy="112" rx="14.1" ry=".262"/></g>
<g id="n520"><ellipse cx="646" cy="113" rx="14.1" ry=".262"/></g>
<g id="n521"><ellipse cx="646" cy="114" rx="14.1" ry=".262"/></g>
<g id="n522"><ellipse cx="646" cy="115" rx="14.1" ry=".262"/></g>
<g id="n523"><ellipse cx="646" cy="116" rx="14.1" ry=".262"/></g>
<g id="n524"><ellipse cx="734" cy="113" rx="14.1" ry=".262"/></g>
<g id="n525"><ellipse cx="734" cy="114" rx="14.1" ry=".262"/></g>
<g id="n526"><ellipse cx="734" cy="115" rx="14.1" ry=".262"/></g>
<g id="n527"><ellipse cx="734" cy="116" rx="14.1" ry=".262"/></g>
<g id="n528"><ellipse cx="734" cy="117" rx="14.1" ry=".262"/></g>
<g id="n529"><ellipse cx="734" cy="118" rx="14.1" ry=".262"/></g>
<g id="n530"><ellipse cx="734" cy="119" rx="14.1" ry=".262"/></g>
<g id="n531"><ellipse cx="734" cy="120" rx="14.1" ry=".262"/></g>
<g id="n532"><ellipse cx="734" cy="121" rx="14.1" ry=".262"/></g>
<g id="n533"><ellipse cx="734" cy="122" rx="14.1" ry=".262"/></g>
<g id="n534"><ellipse cx="921" cy="119" rx="14.1" ry=".262"/></g>
<g id="n535"><ellipse cx="921" cy="120" rx="14.1" ry=".262"/></g>
<g id="n536"><ellipse cx="921" cy="121" rx="14.1" ry=".262"/></g>
<g id="n537"><ellipse cx="921" cy="122" rx="14.1" ry=".262"/></g>
<g id="n538"><ellipse cx="914" cy="123" rx="14.1" ry=".262"/></g>
<g id="n539"><ellipse cx="900" cy="124" rx="14.1" ry=".262"/></g>
<g id="n540"><ellipse cx="889" cy="125" rx="14.1" ry=".262"/></g>
<g id="n541"><ellipse cx="889" cy="126" rx="14.1" ry=".262"/></g>
<g id="n542"><ellipse cx="889" cy="127" rx="14.1" ry=".262"/></g>
<g id="n543"><ellipse cx="889" cy="128" rx="14.1" ry=".262"/></g>
<g id="n544"><ellipse cx="1010" cy="119" rx="14.1" ry=".262"/></g>
<g id="n545"><ellipse cx="1010" cy="120" rx="14.1" ry=".262"/></g>
<g id="n546"><ellipse cx="1010" cy="121" rx="14.1" ry=".262"/></g>
<g id="n547"><ellipse cx="1010" cy="122" rx="14.1" ry=".262"/></g>
<g id="n548"><ellipse cx="1010" cy="123" rx="14.1" ry=".262"/></g>
<g id="n549"><ellipse cx="1010" cy="124" rx="14.1" ry=".262"/></g>
<g id="n550"><ellipse cx="712" cy="123" rx="14.1" ry=".262"/></g>
<g id="n551"><ellipse cx="712" cy="124" rx="14.1" ry=".262"/></g>
<g id="n552"><ellipse cx="712" cy="125" rx="14.1" ry=".262"/></g>
<g id="n553"><ellipse cx="712" cy="126" rx="14.1" ry=".262"/></g>
<g id="n554"><ellipse cx="712" cy="127" rx="14.1" ry=".262"/></g>
<g id="n555"><ellipse cx="712" cy="128" rx="14.1" ry=".262"/></g>
<g id="n556"><ellipse cx="712" cy="129" rx="14.1" ry=".262"/></g>
<g id="n557"><ellipse cx="712" cy="130" rx="14.1" ry=".262"/></g>
<g id="n558"><ellipse cx="712" cy="131" rx="14.1" ry=".262"/></g>
<g id="n559"><ellipse cx="712" cy="132" rx="14.1" ry=".262"/></g>
<g id="n560"><ellipse cx="712" cy="133" rx="14.1" ry=".262"/></g>
<g id="n561"><ellipse cx="712" cy="134" rx="14.1" ry=".262"/></g>
<g id="n562"><ellipse cx="712" cy="135" rx="14.1" ry=".262"/></g>
<g id="n563"><ellipse cx="712" cy="136" rx="14.1" ry=".262"/></g>
<g id="n564"><ellipse cx="712" cy="137" rx="14.1" ry=".262"/></g>
<g id="n565"><ellipse cx="712" cy="138" rx="14.1" ry=".262"/></g>
<g id="n566"><ellipse cx="801" cy="123" rx="14.1" ry=".262"/></g>
<g id="n567"><ellipse cx="801" cy="124" rx="14.1" ry=".262"/></g>
<g id="n568"><ellipse cx="801" cy="125" rx="14.1" ry=".262"/></g>
<g id="n569"><ellipse cx="801" cy="126" rx="14.1" ry=".262"/></g>
<g id="n570"><ellipse cx="624" cy="127" rx="14.1" ry=".262"/></g>
<g id="n571"><ellipse cx="624" cy="128" rx="14.1" ry=".262"/></g>
<g id="n572"><ellipse cx="1112" cy="123" rx="14.1" ry=".262"/></g>
<g id="n573"><ellipse cx="1126" cy="124" rx="14.1" ry=".262"/></g>
<g id="n574"><ellipse cx="1155" cy="125" rx="14.1" ry=".262"/></g>
<g id="n575"><ellipse cx="1155" cy="126" rx="14.1" ry=".262"/></g>
<g id="n576"><ellipse cx="978" cy="125" rx="14.1" ry=".262"/></g>
<g id="n577"><ellipse cx="978" cy="126" rx="14.1" ry=".262"/></g>
<g id="n578"><ellipse cx="978" cy="127" rx="14.1" ry=".262"/></g>
<g id="n579"><ellipse cx="978" cy="128" rx="14.1" ry=".262"/></g>
<g id="n580"><ellipse cx="1067" cy="125" rx="14.1" ry=".262"/></g>
<g id="n581"><ellipse cx="1067" cy="126" rx="14.1" ry=".262"/></g>
<g id="n582"><ellipse cx="1067" cy="127" rx="14.1" ry=".262"/></g>
<g id="n583"><ellipse cx="1067" cy="128" rx="14.1" ry=".262"/></g>
<g id="n584"><ellipse cx="1155" cy="127" rx="14.1" ry=".262"/></g>
<g id="n585"><ellipse cx="1155" cy="128" rx="14.1" ry=".262"/></g>
<g id="n586"><ellipse cx="1063" cy="129" rx="14.1" ry=".262"/></g>
<g id="n587"><ellipse cx="1063" cy="130" rx="14.1" ry=".262"/></g>
<g id="n588"><ellipse cx="1063" cy="131" rx="14.1" ry=".262"/></g>
<g id="n589"><ellipse cx="1063" cy="132" rx="14.1" ry=".262"/></g>
<g id="n590"><ellipse cx="1063" cy="133" rx="14.1" ry=".262"/></g>
<g id="n591"><ellipse cx="1063" cy="134" rx="14.1" ry=".262"/></g>
<g id="n592"><ellipse cx="1151" cy="129" rx="14.1" ry=".262"/></g>
<g id="n593"><ellipse cx="1155" cy="130" rx="14.1" ry=".262"/></g>
<g id="n594"><ellipse cx="1158" cy="131" rx="14.1" ry=".262"/></g>
<g id="n595"><ellipse cx="1169" cy="132" rx="14.1" ry=".262"/></g>
<g id="n596"><ellipse cx="1169" cy="133" rx="14.1" ry=".262"/></g>
<g id="n597"><ellipse cx="1169" cy="134" rx="14.1" ry=".262"/></g>
<g id="n598"><ellipse cx="1169" cy="135" rx="14.1" ry=".262"/></g>
<g id="n599"><ellipse cx="1169" cy="136" rx="14.1" ry=".262"/></g>
<g id="n600"><ellipse cx="957" cy="133" rx="14.1" ry=".262"/></g>
<g id="n601"><ellipse cx="893" cy="134" rx="14.1" ry=".262"/></g>
<g id="n602"><ellipse cx="861" cy="135" rx="14.1" ry=".262"/></g>
<g id="n603"><ellipse cx="837" cy="136" rx="14.1" ry=".262"/></g>
<g id="n604"><ellipse cx="808" cy="137" rx="14.1" ry=".262"/></g>
<g id="n605"><ellipse cx="808" cy="138" rx="14.1" ry=".262"/></g>
<g id="n606"><ellipse cx="808" cy="139" rx="14.1" ry=".262"/></g>
<g id="n607"><ellipse cx="808" cy="140" rx="14.1" ry=".262"/></g>
<g id="n608"><ellipse cx="808" cy="141" rx="14.1" ry=".262"/></g>
<g id="n609"><ellipse cx="808" cy="142" rx="14.1" ry=".262"/></g>
<g id="n610"><ellipse cx="992" cy="135" rx="14.1" ry=".262"/></g>
<g id="n611"><ellipse cx="988" cy="136" rx="14.1" ry=".262"/></g>
<g id="n612"><ellipse cx="985" cy="137" rx="14.1" ry=".262"/></g>
<g id="n613"><ellipse cx="985" cy="138" rx="14.1" ry=".262"/></g>
<g id="n614"><ellipse cx="1081" cy="135" rx="14.1" ry=".262"/></g>
<g id="n615"><ellipse cx="1081" cy="136" rx="14.1" ry=".262"/></g>
<g id="n616"><ellipse cx="1162" cy="137" rx="14.1" ry=".262"/></g>
<g id="n617"><ellipse cx="1162" cy="138" rx="14.1" ry=".262"/></g>
<g id="n618"><ellipse cx="1162" cy="139" rx="14.1" ry=".262"/></g>
<g id="n619"><ellipse cx="1162" cy="140" rx="14.1" ry=".262"/></g>
<g id="n620"><ellipse cx="1162" cy="141" rx="14.1" ry=".262"/></g>
<g id="n621"><ellipse cx="1162" cy="142" rx="14.1" ry=".262"/></g>
<g id="n622"><ellipse cx="1162" cy="143" rx="14.1" ry=".262"/></g>
<g id="n623"><ellipse cx="1162" cy="144" rx="14.1" ry=".262"/></g>
<g id="n624"><ellipse cx="1162" cy="145" rx="14.1" ry=".262"/></g>
<g id="n625"><ellipse cx="1162" cy="146" rx="14.1" ry=".262"/></g>
<g id="n626"><ellipse cx="1258" cy="133" rx="14.1" ry=".262"/></g>
<g id="n627"><ellipse cx="1258" cy="134" rx="14.1" ry=".262"/></g>
<g id="n628"><ellipse cx="1258" cy="135" rx="14.1" ry=".262"/></g>
<g id="n629"><ellipse cx="1258" cy="136" rx="14.1" ry=".262"/></g>
<g id="n630"><ellipse cx="897" cy="137" rx="14.1" ry=".262"/></g>
<g id="n631"><ellipse cx="897" cy="138" rx="14.1" ry=".262"/></g>
<g id="n632"><ellipse cx="897" cy="139" rx="14.1" ry=".262"/></g>
<g id="n633"><ellipse cx="897" cy="140" rx="14.1" ry=".262"/></g>
<g id="n634"><ellipse cx="1073" cy="137" rx="14.1" ry=".262"/></g>
<g id="n635"><ellipse cx="1073" cy="138" rx="14.1" ry=".262"/></g>
<g id="n636"><ellipse cx="1073" cy="139" rx="14.1" ry=".262"/></g>
<g id="n637"><ellipse cx="1073" cy="140" rx="14.1" ry=".262"/></g>
<g id="n638"><ellipse cx="1073" cy="141" rx="14.1" ry=".262"/></g>
<g id="n639"><ellipse cx="1073" cy="142" rx="14.1" ry=".262"/></g>
<g id="n640"><ellipse cx="1073" cy="143" rx="14.1" ry=".262"/></g>
<g id="n641"><ellipse cx="1073" cy="144" rx="14.1" ry=".262"/></g>
<g id="n642"><ellipse cx="985" cy="143" rx="14.1" ry=".262"/></g>
<g id="n643"><ellipse cx="985" cy="144" rx="14.1" ry=".262"/></g>
<g id="n644"><ellipse cx="985" cy="145" rx="14.1" ry=".262"/></g>
<g id="n645"><ellipse cx="985" cy="146" rx="14.1" ry=".262"/></g>
<g id="n646"><ellipse cx="1250" cy="137" rx="14.1" ry=".262"/></g>
<g id="n647"><ellipse cx="1250" cy="138" rx="14.1" ry=".262"/></g>
<g id="n648"><ellipse cx="1250" cy="139" rx="14.1" ry=".262"/></g>
<g id="n649"><ellipse cx="1250" cy="140" rx="14.1" ry=".262"/></g>
<g id="n650"><ellipse cx="1250" cy="143" rx="14.1" ry=".262"/></g>
<g id="n651"><ellipse cx="1250" cy="144" rx="14.1" ry=".262"/></g>
<g id="n652"><ellipse cx="1250" cy="145" rx="14.1" ry=".262"/></g>
<g id="n653"><ellipse cx="1250" cy="146" rx="14.1" ry=".262"/></g>
<g id="n654"><ellipse cx="1339" cy="145" rx="14.1" ry=".262"/></g>
<g id="n655"><ellipse cx="1339" cy="146" rx="14.1" ry=".262"/></g>
<g id="n656"><ellipse cx="1193" cy="147" rx="14.1" ry=".262"/></g>
<g id="n657"><ellipse cx="1151" cy="148" rx="14.1" ry=".262"/></g>
<g id="n658"><ellipse cx="1144" cy="149" rx="14.1" ry=".262"/></g>
<g id="n659"><ellipse cx="1144" cy="150" rx="14.1" ry=".262"/></g>
<g id="n660"><ellipse cx="1144" cy="151" rx="14.1" ry=".262"/></g>
<g id="n661"><ellipse cx="1144" cy="152" rx="14.1" ry=".262"/></g>
<g id="n662"><ellipse cx="1144" cy="153" rx="14.1" ry=".262"/></g>
<g id="n663"><ellipse cx="1144" cy="154" rx="14.1" ry=".262"/></g>
<g id="n664"><ellipse cx="1056" cy="149" rx="14.1" ry=".262"/></g>
<g id="n665"><ellipse cx="1056" cy="150" rx="14.1" ry=".262"/></g>
<g id="n666"><ellipse cx="1232" cy="149" rx="14.1" ry=".262"/></g>
<g id="n667"><ellipse cx="1232" cy="150" rx="14.1" ry=".262"/></g>
<g id="n668"><ellipse cx="1232" cy="151" rx="14.1" ry=".262"/></g>
<g id="n669"><ellipse cx="1232" cy="152" rx="14.1" ry=".262"/></g>
<g id="n670"><ellipse cx="1232" cy="153" rx="14.1" ry=".262"/></g>
<g id="n671"><ellipse cx="1232" cy="154" rx="14.1" ry=".262"/></g>
<g id="n672"><ellipse cx="1232" cy="155" rx="14.1" ry=".262"/></g>
<g id="n673"><ellipse cx="1232" cy="156" rx="14.1" ry=".262"/></g>
<g id="n674"><ellipse cx="1303" cy="147" rx="14.1" ry=".262"/></g>
<g id="n675"><ellipse cx="1314" cy="148" rx="14.1" ry=".262"/></g>
<g id="n676"><ellipse cx="1385" cy="149" rx="14.1" ry=".262"/></g>
<g id="n677"><ellipse cx="1406" cy="150" rx="14.1" ry=".262"/></g>
<g id="n678"><ellipse cx="1056" cy="151" rx="14.1" ry=".262"/></g>
<g id="n679"><ellipse cx="1013" cy="152" rx="14.1" ry=".262"/></g>
<g id="n680"><ellipse cx="966" cy="153" rx="14.1" ry=".262"/></g>
<g id="n681"><ellipse cx="966" cy="154" rx="14.1" ry=".262"/></g>
<g id="n682"><ellipse cx="966" cy="155" rx="14.1" ry=".262"/></g>
<g id="n683"><ellipse cx="966" cy="156" rx="14.1" ry=".262"/></g>
<g id="n684"><ellipse cx="966" cy="157" rx="14.1" ry=".262"/></g>
<g id="n685"><ellipse cx="966" cy="158" rx="14.1" ry=".262"/></g>
<g id="n686"><ellipse cx="879" cy="155" rx="14.1" ry=".262"/></g>
<g id="n687"><ellipse cx="879" cy="156" rx="14.1" ry=".262"/></g>
<g id="n688"><ellipse cx="879" cy="157" rx="14.1" ry=".262"/></g>
<g id="n689"><ellipse cx="879" cy="158" rx="14.1" ry=".262"/></g>
<g id="n690"><ellipse cx="879" cy="159" rx="14.1" ry=".262"/></g>
<g id="n691"><ellipse cx="879" cy="160" rx="14.1" ry=".262"/></g>
<g id="n692"><ellipse cx="1056" cy="153" rx="14.1" ry=".262"/></g>
<g id="n693"><ellipse cx="1056" cy="154" rx="14.1" ry=".262"/></g>
<g id="n694"><ellipse cx="1056" cy="155" rx="14.1" ry=".262"/></g>
<g id="n695"><ellipse cx="1056" cy="156" rx="14.1" ry=".262"/></g>
<g id="n696"><ellipse cx="1321" cy="153" rx="14.1" ry=".262"/></g>
<g id="n697"><ellipse cx="1321" cy="154" rx="14.1" ry=".262"/></g>
<g id="n698"><ellipse cx="1321" cy="155" rx="14.1" ry=".262"/></g>
<g id="n699"><ellipse cx="1321" cy="156" rx="14.1" ry=".262"/></g>
<g id="n700"><ellipse cx="1187" cy="157" rx="14.1" ry=".262"/></g>
<g id="n701"><ellipse cx="1187" cy="158" rx="14.1" ry=".262"/></g>
<g id="n702"><ellipse cx="1187" cy="159" rx="14.1" ry=".262"/></g>
<g id="n703"><ellipse cx="1187" cy="160" rx="14.1" ry=".262"/></g>
<g id="n704"><ellipse cx="1275" cy="157" rx="14.1" ry=".262"/></g>
<g id="n705"><ellipse cx="1275" cy="158" rx="14.1" ry=".262"/></g>
<g id="n706"><ellipse cx="1275" cy="159" rx="14.1" ry=".262"/></g>
<g id="n707"><ellipse cx="1275" cy="160" rx="14.1" ry=".262"/></g>
<g id="n708"><ellipse cx="1098" cy="159" rx="14.1" ry=".262"/></g>
<g id="n709"><ellipse cx="1098" cy="160" rx="14.1" ry=".262"/></g>
<g id="n710"><ellipse cx="1098" cy="161" rx="14.1" ry=".262"/></g>
<g id="n711"><ellipse cx="1098" cy="162" rx="14.1" ry=".262"/></g>
<g id="n712"><ellipse cx="1363" cy="151" rx="14.1" ry=".262"/></g>
<g id="n713"><ellipse cx="1363" cy="152" rx="14.1" ry=".262"/></g>
<g id="n714"><ellipse cx="1410" cy="153" rx="14.1" ry=".262"/></g>
<g id="n715"><ellipse cx="1410" cy="154" rx="14.1" ry=".262"/></g>
<g id="n716"><ellipse cx="1452" cy="151" rx="14.1" ry=".262"/></g>
<g id="n717"><ellipse cx="1452" cy="152" rx="14.1" ry=".262"/></g>
<g id="n718"><ellipse cx="1541" cy="151" rx="14.1" ry=".262"/></g>
<g id="n719"><ellipse cx="1541" cy="152" rx="14.1" ry=".262"/></g>
<g id="n720"><ellipse cx="1541" cy="153" rx="14.1" ry=".262"/></g>
<g id="n721"><ellipse cx="1541" cy="154" rx="14.1" ry=".262"/></g>
</g>
</g>
</svg>
